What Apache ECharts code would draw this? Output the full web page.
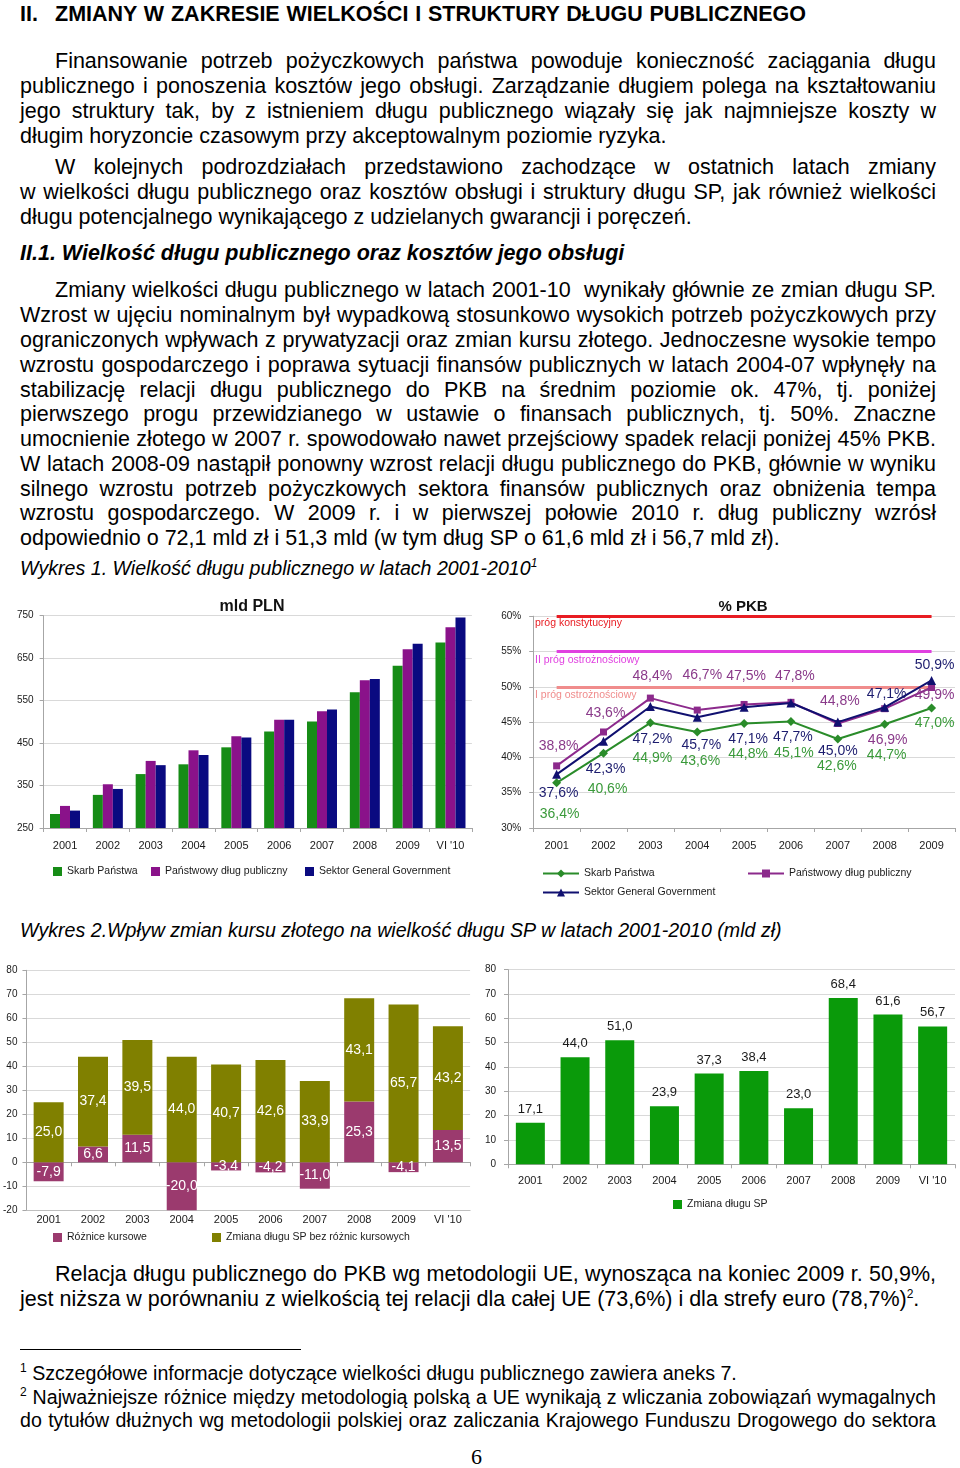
<!DOCTYPE html>
<html><head><meta charset="utf-8">
<script src="https://cdn.jsdelivr.net/npm/echarts@6/dist/echarts.min.js"></script>
<style>
html,body{margin:0;padding:0;background:#fff;}
#page{position:relative;width:960px;height:1468px;background:#fff;overflow:hidden;font-family:'Liberation Sans',Arial,sans-serif;color:#000;}
.t{position:absolute;font-size:21.5px;line-height:24px;white-space:nowrap;}
.b{font-weight:bold;}
.i{font-style:italic;}
.cap{font-size:19.6px;}
.fn{font-size:19.6px;}
sup{font-size:12px;line-height:0;vertical-align:8px;}
.ch{position:absolute;}
</style></head>
<body>
<div id="page">
<div class="t b" style="left:20px;top:2px">II.</div>
<div class="t b j" data-w="751" style="left:55px;top:2px">ZMIANY W ZAKRESIE WIELKOŚCI I STRUKTURY DŁUGU PUBLICZNEGO</div>

<div class="t j" data-w="881" style="left:55px;top:49px">Finansowanie potrzeb pożyczkowych państwa powoduje konieczność zaciągania długu</div>
<div class="t j" data-w="916" style="left:20px;top:74px">publicznego i ponoszenia kosztów jego obsługi. Zarządzanie długiem polega na kształtowaniu</div>
<div class="t j" data-w="916" style="left:20px;top:99px">jego struktury tak, by z istnieniem długu publicznego wiązały się jak najmniejsze koszty w</div>
<div class="t" style="left:20px;top:124px">długim horyzoncie czasowym przy akceptowalnym poziomie ryzyka.</div>

<div class="t j" data-w="881" style="left:55px;top:155px">W kolejnych podrozdziałach przedstawiono zachodzące w ostatnich latach zmiany</div>
<div class="t j" data-w="916" style="left:20px;top:180px">w wielkości długu publicznego oraz kosztów obsługi i struktury długu SP, jak również wielkości</div>
<div class="t" style="left:20px;top:205px">długu potencjalnego wynikającego z udzielanych gwarancji i poręczeń.</div>

<div class="t b i" style="left:20px;top:241px">II.1. Wielkość długu publicznego oraz kosztów jego obsługi</div>

<div class="t j" data-w="881" style="left:55px;top:278px">Zmiany wielkości długu publicznego w latach 2001-10&nbsp; wynikały głównie ze zmian długu SP.</div>
<div class="t j" data-w="916" style="left:20px;top:303px">Wzrost w ujęciu nominalnym był wypadkową stosunkowo wysokich potrzeb pożyczkowych przy</div>
<div class="t j" data-w="916" style="left:20px;top:328px">ograniczonych wpływach z prywatyzacji oraz zmian kursu złotego. Jednoczesne wysokie tempo</div>
<div class="t j" data-w="916" style="left:20px;top:353px">wzrostu gospodarczego i poprawa sytuacji finansów publicznych w latach 2004-07 wpłynęły na</div>
<div class="t j" data-w="916" style="left:20px;top:378px">stabilizację relacji długu publicznego do PKB na średnim poziomie ok. 47%, tj. poniżej</div>
<div class="t j" data-w="916" style="left:20px;top:402px">pierwszego progu przewidzianego w ustawie o finansach publicznych, tj. 50%. Znaczne</div>
<div class="t j" data-w="916" style="left:20px;top:427px">umocnienie złotego w 2007 r. spowodowało nawet przejściowy spadek relacji poniżej 45% PKB.</div>
<div class="t j" data-w="916" style="left:20px;top:452px">W latach 2008-09 nastąpił ponowny wzrost relacji długu publicznego do PKB, głównie w wyniku</div>
<div class="t j" data-w="916" style="left:20px;top:477px">silnego wzrostu potrzeb pożyczkowych sektora finansów publicznych oraz obniżenia tempa</div>
<div class="t j" data-w="916" style="left:20px;top:501px">wzrostu gospodarczego. W 2009 r. i w pierwszej połowie 2010 r. dług publiczny wzrósł</div>
<div class="t" style="left:20px;top:526px">odpowiednio o 72,1 mld zł i 51,3 mld (w tym dług SP o 61,6 mld zł i 56,7 mld zł).</div>

<div class="t i cap" style="left:20px;top:556px">Wykres 1. Wielkość długu publicznego w latach 2001-2010<sup>1</sup></div>

<div id="c1" class="ch" style="left:0;top:595px;width:480px;height:300px"></div>
<div id="c2" class="ch" style="left:490px;top:595px;width:470px;height:305px"></div>

<div class="t i cap" style="left:20px;top:918px">Wykres 2.Wpływ zmian kursu złotego na wielkość długu SP w latach 2001-2010 (mld zł)</div>

<div id="c3" class="ch" style="left:0;top:955px;width:475px;height:295px"></div>
<div id="c4" class="ch" style="left:475px;top:955px;width:485px;height:260px"></div>

<div class="t j" data-w="881" style="left:55px;top:1262px">Relacja długu publicznego do PKB wg metodologii UE, wynosząca na koniec 2009 r. 50,9%,</div>
<div class="t" style="left:20px;top:1287px">jest niższa w porównaniu z wielkością tej relacji dla całej UE (73,6%) i dla strefy euro (78,7%)<sup>2</sup>.</div>

<div style="position:absolute;left:20px;top:1349px;width:281px;height:1px;background:#000"></div>
<div class="t fn" style="left:20px;top:1361px"><sup>1</sup> Szczegółowe informacje dotyczące wielkości długu publicznego zawiera aneks 7.</div>
<div class="t fn j" data-w="916" style="left:20px;top:1385px"><sup>2</sup> Najważniejsze różnice między metodologią polską a UE wynikają z wliczania zobowiązań wymagalnych</div>
<div class="t fn j" data-w="916" style="left:20px;top:1408px">do tytułów dłużnych wg metodologii polskiej oraz zaliczania Krajowego Funduszu Drogowego do sektora</div>

<div class="t" style="left:471px;top:1445px;font-family:'Liberation Serif','Times New Roman',serif;font-size:22px">6</div>
</div>

<script>
// ---------- DATA ----------
const years10 = ['2001','2002','2003','2004','2005','2006','2007','2008','2009',"VI '10"];
const years9 = ['2001','2002','2003','2004','2005','2006','2007','2008','2009'];

// Wykres 1 (mld PLN)
const debtSP  = [283, 328, 377, 400, 440, 477, 501, 570, 632, 687];
const debtPDP = [302, 353, 408, 433, 466, 505, 525, 598, 671, 723];
const debtGG  = [291, 342, 398, 422, 463, 505, 529, 601, 684, 746];
const debtTicks = [250, 750, 100];

// Wykres 1 (% PKB)
const pctSP  = [36.4, 40.6, 44.9, 43.6, 44.8, 45.1, 42.6, 44.7, 47.0];
const pctPDP = [38.8, 43.6, 48.4, 46.7, 47.5, 47.8, 44.8, 46.9, 49.9];
const pctGG  = [37.6, 42.3, 47.2, 45.7, 47.1, 47.7, 45.0, 47.1, 50.9];
const thresholdValues = [60, 55, 50];
const thresholdNames = ['próg konstytucyjny', 'II próg ostrożnościowy', 'I próg ostrożnościowy'];

// Wykres 2 (mld zł)
const fxDiff    = [-7.9, 6.6, 11.5, -20.0, -3.4, -4.2, -11.0, 25.3, -4.1, 13.5];
const changeExFx = [25.0, 37.4, 39.5, 44.0, 40.7, 42.6, 33.9, 43.1, 65.7, 43.2];
const changeSP  = [17.1, 44.0, 51.0, 23.9, 37.3, 38.4, 23.0, 68.4, 61.6, 56.7];

// ---------- STYLE (label offsets for line chart) ----------
const offSP  = [[3,31],[4,36],[2,35],[3,29],[4,31],[3,32],[-1,27],[2,31],[3,15]];
const offPDP = [[2,-20],[2,-19],[2,-22],[5,-35],[2,-28],[4,-26],[2,-22],[3,31],[3,8]];
const offGG  = [[2,19],[2,28],[2,33],[4,28],[4,32],[2,34],[0,29],[2,-13],[3,-15]];

// ---------- text fitting ----------
document.querySelectorAll('.j').forEach(el => {
  const target = parseFloat(el.dataset.w);
  const nat = el.getBoundingClientRect().width;
  const spaces = (el.textContent.match(/[ \u00a0]/g) || []).length;
  if (spaces > 0) el.style.wordSpacing = ((target - nat) / spaces) + 'px';
});

function hasFont(f) {
  const c = document.createElement('canvas').getContext('2d');
  const t = 'Skarb Państwa 2001 abcdefghij WMW';
  c.font = '40px monospace'; const a = c.measureText(t).width;
  c.font = '40px "' + f + '", monospace'; const b = c.measureText(t).width;
  return Math.abs(a - b) > 0.5;
}
const hasNarrow = hasFont('Liberation Sans Narrow');
const NF = hasNarrow ? "'Liberation Sans Narrow', 'Liberation Sans', sans-serif" : "'Liberation Sans', sans-serif";
const ns = n => hasNarrow ? n : Math.round(n * 0.85 * 2) / 2;
const AF = "'Liberation Sans', Arial, sans-serif";
const fmt = v => v.toFixed(1).replace('.', ',');

const gridLine = {show: true, lineStyle: {color: '#d9d9d9', width: 1}};
const axLine = {show: true, onZero: false, lineStyle: {color: '#a6a6a6', width: 1}};
const axTick = {show: true, length: 4, lineStyle: {color: '#a6a6a6'}};
const TXT = '#1a1a1a';

const legItem = (name, left, top) => ({
  data: [name], left: left, top: top, padding: 0, itemWidth: 9, itemHeight: 9, icon: 'rect',
  textStyle: {fontFamily: NF, fontSize: ns(12.5), color: TXT}, selectedMode: false
});

// ---------- Chart 1: mld PLN ----------
const c1 = echarts.init(document.getElementById('c1'));
c1.setOption({
  animation: false,
  grid: {left: 43.6, right: 8.1, top: 20.7, bottom: 67},
  graphic: [{type: 'text', x: 0, y: 0, style: {text: 'mld PLN', x: 252, y: 12, textAlign: 'center', textVerticalAlign: 'middle', font: 'bold 16px ' + AF, fill: '#111'}}],
  legend: [legItem('Skarb Państwa', 53, 271), legItem('Państwowy dług publiczny', 151, 271), legItem('Sektor General Government', 305, 271)],
  xAxis: {type: 'category', data: years10, axisLine: axLine, axisTick: axTick,
    axisLabel: {margin: 12, fontFamily: NF, fontSize: ns(13), color: TXT}},
  yAxis: {type: 'value', min: debtTicks[0], max: debtTicks[1], interval: debtTicks[2],
    axisLine: axLine, axisTick: axTick, splitLine: gridLine,
    axisLabel: {margin: 10, fontFamily: NF, fontSize: ns(12), color: TXT}},
  series: [
    {name: 'Skarb Państwa', type: 'bar', data: debtSP, barWidth: 10, barGap: '0%', itemStyle: {color: '#168c16'}},
    {name: 'Państwowy dług publiczny', type: 'bar', data: debtPDP, barWidth: 10, barGap: '0%', itemStyle: {color: '#8a128a'}},
    {name: 'Sektor General Government', type: 'bar', data: debtGG, barWidth: 10, barGap: '0%', itemStyle: {color: '#0a0a80'}}
  ]
});

// ---------- Chart 2: % PKB ----------
const c2 = echarts.init(document.getElementById('c2'));
const thColors = ['#e81c22', '#e040e0', '#f08c8c'];
const thLabelY = [28, 65, 100];
const lineLeg = (name, left, top) => ({
  data: [name], left: left, top: top, padding: 0, itemWidth: 36, itemHeight: 10,
  textStyle: {fontFamily: NF, fontSize: ns(12.5), color: TXT}, selectedMode: false
});
const mkData = (arr, offs) => arr.map((v, i) => ({value: v, label: {offset: offs[i]}}));
c2.setOption({
  animation: false,
  grid: {left: 43.2, right: 5, top: 21.2, bottom: 72},
  graphic: [
    {type: 'text', x: 0, y: 0, style: {text: '% PKB', x: 253, y: 12, textAlign: 'center', textVerticalAlign: 'middle', font: 'bold 15px ' + AF, fill: '#111'}}
  ].concat(thresholdNames.map((n, i) => ({type: 'text', x: 0, y: 0, z: 10,
    style: {text: n, x: 45, y: thLabelY[i], textAlign: 'left', textVerticalAlign: 'middle', font: ns(12.5) + 'px ' + NF, fill: thColors[i]}}))),
  legend: [lineLeg('Skarb Państwa', 52, 273), lineLeg('Państwowy dług publiczny', 257, 273), lineLeg('Sektor General Government', 52, 292)],
  xAxis: {type: 'category', data: years9, axisLine: axLine, axisTick: axTick,
    axisLabel: {margin: 12, fontFamily: NF, fontSize: ns(13), color: TXT}},
  yAxis: {type: 'value', min: 30, max: 60, interval: 5, axisLine: axLine, axisTick: axTick, splitLine: gridLine,
    axisLabel: {margin: 12, fontFamily: NF, fontSize: ns(12), color: TXT, formatter: '{value}%'}},
  series: [
    {name: 'Skarb Państwa', type: 'line', data: mkData(pctSP, offSP), symbol: 'diamond', symbolSize: 9, z: 3,
      lineStyle: {color: '#2a8c2a', width: 2}, itemStyle: {color: '#2a8c2a'},
      label: {show: true, position: 'inside', formatter: p => fmt(p.value) + '%', color: '#3a9a3a', fontFamily: AF, fontSize: 14},
      markLine: {silent: true, symbol: 'none', z: 1, label: {show: false},
        data: thresholdValues.map((t, i) => [{coord: [years9[0], t], lineStyle: {color: thColors[i], width: 3, type: 'solid'}}, {coord: [years9[8], t]}])}},
    {name: 'Państwowy dług publiczny', type: 'line', data: mkData(pctPDP, offPDP), symbol: 'rect', symbolSize: 7, z: 4,
      lineStyle: {color: '#8c2a8c', width: 2}, itemStyle: {color: '#8c2a8c'},
      label: {show: true, position: 'inside', formatter: p => fmt(p.value) + '%', color: '#8a3a8a', fontFamily: AF, fontSize: 14}},
    {name: 'Sektor General Government', type: 'line', data: mkData(pctGG, offGG), symbol: 'triangle', symbolSize: 9, z: 5,
      lineStyle: {color: '#101070', width: 2}, itemStyle: {color: '#101070'},
      label: {show: true, position: 'inside', formatter: p => fmt(p.value) + '%', color: '#1c1c6e', fontFamily: AF, fontSize: 14}}
  ]
});

// ---------- Chart 3: stacked ----------
const c3 = echarts.init(document.getElementById('c3'));
c3.setOption({
  animation: false,
  grid: {left: 25.3, right: 4.9, top: 15.3, bottom: 39.7},
  legend: [legItem('Różnice kursowe', 53, 277), legItem('Zmiana długu SP bez różnic kursowych', 212, 277)],
  xAxis: [
    {type: 'category', data: years10, axisLine: {show: true, onZero: false, lineStyle: {color: '#bfbfbf'}}, axisTick: {show: false},
      axisLabel: {margin: 4, fontFamily: NF, fontSize: ns(13), color: TXT}},
    {type: 'category', data: years10, position: 'bottom', axisLine: {show: true, onZero: true, lineStyle: {color: '#a6a6a6'}},
      axisTick: axTick, axisLabel: {show: false}}
  ],
  yAxis: {type: 'value', min: -20, max: 80, interval: 10, axisLine: axLine, axisTick: axTick, splitLine: gridLine,
    axisLabel: {margin: 9, fontFamily: NF, fontSize: ns(12), color: TXT}},
  series: [
    {name: 'Różnice kursowe', type: 'bar', stack: 's', data: fxDiff, barWidth: 30, itemStyle: {color: '#9b3a6e'},
      label: {show: true, position: 'inside', formatter: p => fmt(p.value), color: '#fff', fontFamily: AF, fontSize: 14}},
    {name: 'Zmiana długu SP bez różnic kursowych', type: 'bar', stack: 's', data: changeExFx, barWidth: 30, itemStyle: {color: '#808000'},
      label: {show: true, position: 'inside', formatter: p => fmt(p.value), color: '#fff', fontFamily: AF, fontSize: 14}}
  ]
});

// ---------- Chart 4: Zmiana długu SP ----------
const c4 = echarts.init(document.getElementById('c4'));
c4.setOption({
  animation: false,
  grid: {left: 33, right: 5, top: 14.7, bottom: 50.7},
  legend: [legItem('Zmiana długu SP', 198, 244)],
  xAxis: {type: 'category', data: years10, axisLine: axLine, axisTick: axTick,
    axisLabel: {margin: 11, fontFamily: NF, fontSize: ns(13), color: TXT}},
  yAxis: {type: 'value', min: 0, max: 80, interval: 10, axisLine: axLine, axisTick: axTick, splitLine: gridLine,
    axisLabel: {margin: 12, fontFamily: NF, fontSize: ns(12), color: TXT}},
  series: [
    {name: 'Zmiana długu SP', type: 'bar', data: changeSP, barWidth: 29, itemStyle: {color: '#0a9a0a'},
      label: {show: true, position: 'top', distance: 7, formatter: p => fmt(p.value), color: '#1a1a1a', fontFamily: NF, fontSize: ns(15)}}
  ]
});
</script>
</body></html>
